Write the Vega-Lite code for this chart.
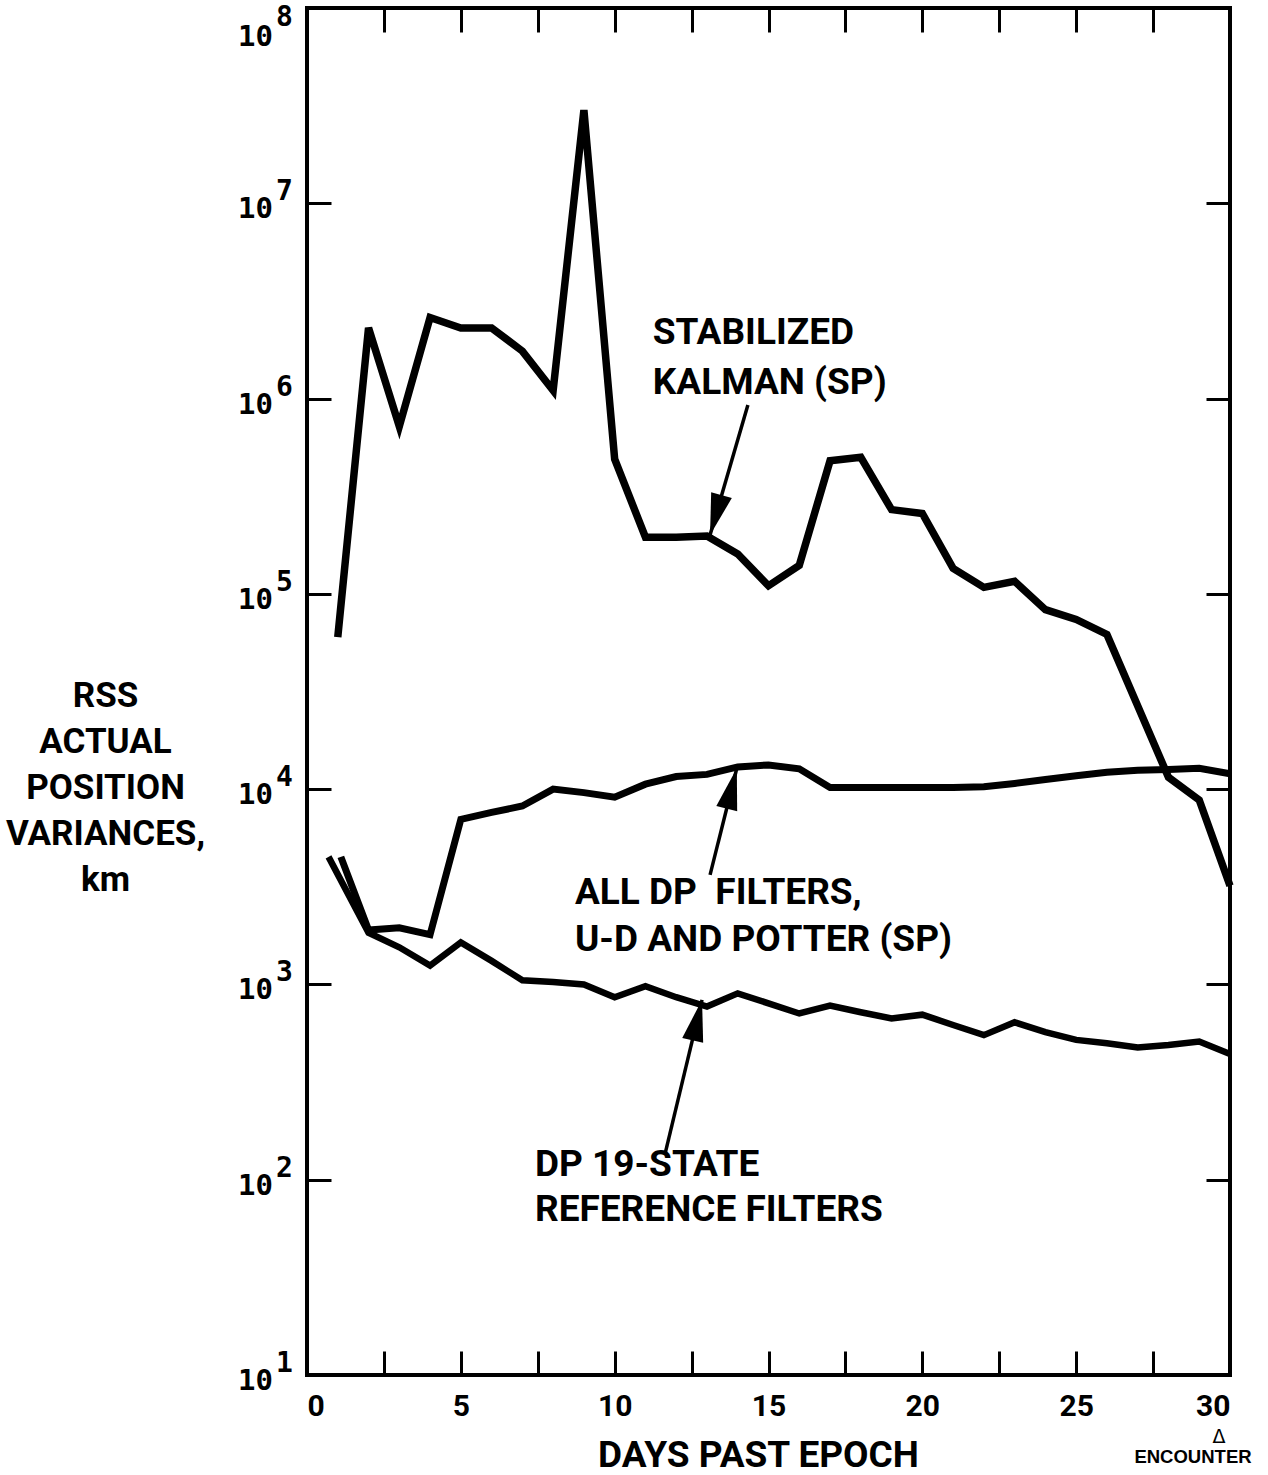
{
  "$schema": "https://vega.github.io/schema/vega-lite/v6.json",
  "width": 923,
  "height": 1367,
  "autosize": {"type": "none"},
  "padding": {"left": 307, "top": 8, "right": 38, "bottom": 100},
  "background": "white",
  "config": {
    "view": {"stroke": "black", "strokeWidth": 4},
    "axis": {"grid": false, "domain": false, "tickColor": "black", "tickWidth": 3, "tickSize": -24, "labelColor": "black", "titleColor": "black"},
    "font": "Roboto"
  },
  "datasets": {
    "curves": [
      {"series": "Kalman", "day": 1, "value": 60000},
      {"series": "Kalman", "day": 2, "value": 2300000},
      {"series": "Kalman", "day": 3, "value": 720000},
      {"series": "Kalman", "day": 4, "value": 2600000},
      {"series": "Kalman", "day": 5, "value": 2300000},
      {"series": "Kalman", "day": 6, "value": 2300000},
      {"series": "Kalman", "day": 7, "value": 1750000},
      {"series": "Kalman", "day": 8, "value": 1100000},
      {"series": "Kalman", "day": 9, "value": 30000000},
      {"series": "Kalman", "day": 10, "value": 490000},
      {"series": "Kalman", "day": 11, "value": 195000},
      {"series": "Kalman", "day": 12, "value": 195000},
      {"series": "Kalman", "day": 13, "value": 198000},
      {"series": "Kalman", "day": 14, "value": 160000},
      {"series": "Kalman", "day": 15, "value": 110000},
      {"series": "Kalman", "day": 16, "value": 140000},
      {"series": "Kalman", "day": 17, "value": 480000},
      {"series": "Kalman", "day": 18, "value": 500000},
      {"series": "Kalman", "day": 19, "value": 270000},
      {"series": "Kalman", "day": 20, "value": 258000},
      {"series": "Kalman", "day": 21, "value": 135000},
      {"series": "Kalman", "day": 22, "value": 108000},
      {"series": "Kalman", "day": 23, "value": 116000},
      {"series": "Kalman", "day": 24, "value": 83000},
      {"series": "Kalman", "day": 25, "value": 74000},
      {"series": "Kalman", "day": 26, "value": 62000},
      {"series": "Kalman", "day": 28, "value": 11500},
      {"series": "Kalman", "day": 29, "value": 8800},
      {"series": "Kalman", "day": 30, "value": 3200},
      {"series": "AllDP", "day": 1.1, "value": 4500},
      {"series": "AllDP", "day": 2, "value": 1900},
      {"series": "AllDP", "day": 3, "value": 1950},
      {"series": "AllDP", "day": 4, "value": 1800},
      {"series": "AllDP", "day": 5, "value": 7000},
      {"series": "AllDP", "day": 6, "value": 7600},
      {"series": "AllDP", "day": 7, "value": 8200},
      {"series": "AllDP", "day": 8, "value": 10000},
      {"series": "AllDP", "day": 9, "value": 9600},
      {"series": "AllDP", "day": 10, "value": 9100},
      {"series": "AllDP", "day": 11, "value": 10600},
      {"series": "AllDP", "day": 12, "value": 11600},
      {"series": "AllDP", "day": 13, "value": 11900},
      {"series": "AllDP", "day": 14, "value": 13000},
      {"series": "AllDP", "day": 15, "value": 13300},
      {"series": "AllDP", "day": 16, "value": 12700},
      {"series": "AllDP", "day": 17, "value": 10200},
      {"series": "AllDP", "day": 18, "value": 10200},
      {"series": "AllDP", "day": 19, "value": 10200},
      {"series": "AllDP", "day": 20, "value": 10200},
      {"series": "AllDP", "day": 21, "value": 10200},
      {"series": "AllDP", "day": 22, "value": 10300},
      {"series": "AllDP", "day": 23, "value": 10700},
      {"series": "AllDP", "day": 24, "value": 11200},
      {"series": "AllDP", "day": 25, "value": 11700},
      {"series": "AllDP", "day": 26, "value": 12200},
      {"series": "AllDP", "day": 27, "value": 12500},
      {"series": "AllDP", "day": 28, "value": 12600},
      {"series": "AllDP", "day": 29, "value": 12800},
      {"series": "AllDP", "day": 30, "value": 12000},
      {"series": "Reference", "day": 0.7, "value": 4500},
      {"series": "Reference", "day": 2, "value": 1840},
      {"series": "Reference", "day": 3, "value": 1550},
      {"series": "Reference", "day": 4, "value": 1250},
      {"series": "Reference", "day": 5, "value": 1640},
      {"series": "Reference", "day": 6, "value": 1320},
      {"series": "Reference", "day": 7, "value": 1050},
      {"series": "Reference", "day": 8, "value": 1030},
      {"series": "Reference", "day": 9, "value": 1000},
      {"series": "Reference", "day": 10, "value": 860},
      {"series": "Reference", "day": 11, "value": 980},
      {"series": "Reference", "day": 12, "value": 860},
      {"series": "Reference", "day": 13, "value": 770},
      {"series": "Reference", "day": 14, "value": 900},
      {"series": "Reference", "day": 15, "value": 800},
      {"series": "Reference", "day": 16, "value": 710},
      {"series": "Reference", "day": 17, "value": 780},
      {"series": "Reference", "day": 18, "value": 720},
      {"series": "Reference", "day": 19, "value": 670},
      {"series": "Reference", "day": 20, "value": 700},
      {"series": "Reference", "day": 21, "value": 620},
      {"series": "Reference", "day": 22, "value": 550},
      {"series": "Reference", "day": 23, "value": 640},
      {"series": "Reference", "day": 24, "value": 570},
      {"series": "Reference", "day": 25, "value": 520},
      {"series": "Reference", "day": 26, "value": 500},
      {"series": "Reference", "day": 27, "value": 475},
      {"series": "Reference", "day": 28, "value": 490},
      {"series": "Reference", "day": 29, "value": 510},
      {"series": "Reference", "day": 30, "value": 440}
    ],
    "yticks": [
      {"value": 10, "exp": "1"},
      {"value": 100, "exp": "2"},
      {"value": 1000, "exp": "3"},
      {"value": 10000, "exp": "4"},
      {"value": 100000, "exp": "5"},
      {"value": 1000000, "exp": "6"},
      {"value": 10000000, "exp": "7"},
      {"value": 100000000, "exp": "8"}
    ],
    "notes": [
      {"day": 11.24, "value": 2170000, "text": "STABILIZED"},
      {"day": 11.24, "value": 1200000, "text": "KALMAN (SP)"},
      {"day": 8.71, "value": 2940, "text": "ALL DP\u00a0\u00a0FILTERS,"},
      {"day": 8.71, "value": 1690, "text": "U-D AND POTTER (SP)"},
      {"day": 7.41, "value": 119, "text": "DP 19-STATE"},
      {"day": 7.41, "value": 70, "text": "REFERENCE FILTERS"}
    ],
    "arrows": [
      {"arrow": "kalman", "day": 14.33, "value": 927000, "tipDay": 13.1, "tipValue": 200000},
      {"arrow": "alldp", "day": 13.1, "value": 3640, "tipDay": 13.97, "tipValue": 12800},
      {"arrow": "reference", "day": 11.63, "value": 134, "tipDay": 12.84, "tipValue": 834}
    ],
    "encounter": [
      {"day": 30, "value": 10, "label": "ENCOUNTER", "mark": "Δ"}
    ]
  },
  "layer": [
    {
      "data": {"name": "curves"},
      "mark": {"type": "line", "color": "black", "strokeJoin": "miter", "strokeCap": "butt"},
      "encoding": {
        "x": {
          "field": "day", "type": "quantitative",
          "scale": {"domain": [0, 30], "nice": false, "zero": false},
          "axis": {
            "orient": "bottom",
            "values": [0, 2.5, 5, 7.5, 10, 12.5, 15, 17.5, 20, 22.5, 25, 27.5, 30],
            "labelExpr": "datum.value % 5 === 0 ? datum.label : ''",
            "labelFont": "Roboto",
            "labelFontSize": 30,
            "labelFontWeight": "bold",
            "labelPadding": 40,
            "labelFlush": true,
            "title": "DAYS PAST EPOCH",
            "titleFont": "Roboto",
            "titleFontSize": 37,
            "titleFontWeight": "bold",
            "titleX": 451,
            "titleY": 80,
            "titleBaseline": "middle",
            "titleAlign": "center",
            "titleAnchor": null
          }
        },
        "y": {
          "field": "value", "type": "quantitative",
          "scale": {"type": "log", "domain": [10, 100000000], "nice": false},
          "axis": {
            "orient": "left",
            "values": [10, 100, 1000, 10000, 100000, 1000000, 10000000, 100000000],
            "labels": false,
            "title": ["RSS", "ACTUAL", "POSITION", "VARIANCES,", "km"],
            "titleFont": "Roboto",
            "titleFontSize": 35,
            "titleFontWeight": "bold",
            "titleAngle": 0,
            "titleAlign": "center",
            "titleBaseline": "middle",
            "titleLineHeight": 46,
            "titleX": -202,
            "titleY": 687
          }
        },
        "detail": {"field": "series", "type": "nominal"},
        "strokeWidth": {
          "field": "series", "type": "nominal",
          "scale": {"domain": ["Kalman", "AllDP", "Reference"], "range": [7.5, 6.5, 6.5]},
          "legend": null
        }
      }
    },
    {
      "data": {"name": "curves"},
      "mark": {"type": "line", "opacity": 0},
      "encoding": {
        "x": {
          "field": "day", "type": "quantitative",
          "scale": {"domain": [0, 30], "nice": false, "zero": false},
          "axis": {"orient": "top", "values": [0, 2.5, 5, 7.5, 10, 12.5, 15, 17.5, 20, 22.5, 25, 27.5, 30], "labels": false, "title": null}
        },
        "y": {
          "field": "value", "type": "quantitative",
          "scale": {"type": "log", "domain": [10, 100000000], "nice": false},
          "axis": {"orient": "right", "values": [10, 100, 1000, 10000, 100000, 1000000, 10000000, 100000000], "labels": false, "title": null}
        },
        "detail": {"field": "series", "type": "nominal"}
      }
    },
    {
      "data": {"name": "yticks"},
      "transform": [{"filter": "datum.value < 50000000"}],
      "mark": {"type": "text", "align": "right", "baseline": "middle", "dx": -34, "dy": 6, "font": "DejaVu Sans Mono", "fontSize": 29, "fontWeight": "bold", "color": "black"},
      "encoding": {
        "x": {"datum": 0, "type": "quantitative", "scale": {"domain": [0, 30], "nice": false, "zero": false}, "axis": null},
        "y": {"field": "value", "type": "quantitative", "scale": {"type": "log", "domain": [10, 100000000], "nice": false}, "axis": null},
        "text": {"value": "10"}
      }
    },
    {
      "data": {"name": "yticks"},
      "transform": [{"filter": "datum.value < 50000000"}],
      "mark": {"type": "text", "align": "left", "baseline": "middle", "dx": -31, "dy": -11, "font": "DejaVu Sans Mono", "fontSize": 28, "fontWeight": "bold", "color": "black"},
      "encoding": {
        "x": {"datum": 0, "type": "quantitative", "scale": {"domain": [0, 30], "nice": false, "zero": false}, "axis": null},
        "y": {"field": "value", "type": "quantitative", "scale": {"type": "log", "domain": [10, 100000000], "nice": false}, "axis": null},
        "text": {"field": "exp"}
      }
    },
    {
      "data": {"name": "yticks"},
      "transform": [{"filter": "datum.value > 50000000"}],
      "mark": {"type": "text", "align": "right", "baseline": "middle", "dx": -34, "dy": 29, "font": "DejaVu Sans Mono", "fontSize": 29, "fontWeight": "bold", "color": "black"},
      "encoding": {
        "x": {"datum": 0, "type": "quantitative", "scale": {"domain": [0, 30], "nice": false, "zero": false}, "axis": null},
        "y": {"field": "value", "type": "quantitative", "scale": {"type": "log", "domain": [10, 100000000], "nice": false}, "axis": null},
        "text": {"value": "10"}
      }
    },
    {
      "data": {"name": "yticks"},
      "transform": [{"filter": "datum.value > 50000000"}],
      "mark": {"type": "text", "align": "left", "baseline": "middle", "dx": -31, "dy": 10, "font": "DejaVu Sans Mono", "fontSize": 28, "fontWeight": "bold", "color": "black"},
      "encoding": {
        "x": {"datum": 0, "type": "quantitative", "scale": {"domain": [0, 30], "nice": false, "zero": false}, "axis": null},
        "y": {"field": "value", "type": "quantitative", "scale": {"type": "log", "domain": [10, 100000000], "nice": false}, "axis": null},
        "text": {"field": "exp"}
      }
    },
    {
      "data": {"name": "notes"},
      "mark": {"type": "text", "align": "left", "baseline": "middle", "font": "Roboto", "fontSize": 37, "fontWeight": "bold", "color": "black"},
      "encoding": {
        "x": {"field": "day", "type": "quantitative", "scale": {"domain": [0, 30], "nice": false, "zero": false}, "axis": null},
        "y": {"field": "value", "type": "quantitative", "scale": {"type": "log", "domain": [10, 100000000], "nice": false}, "axis": null},
        "text": {"field": "text"}
      }
    },
    {
      "data": {"name": "arrows"},
      "mark": {"type": "rule", "color": "black", "strokeWidth": 3.5},
      "encoding": {
        "x": {"field": "day", "type": "quantitative", "scale": {"domain": [0, 30], "nice": false, "zero": false}, "axis": null},
        "y": {"field": "value", "type": "quantitative", "scale": {"type": "log", "domain": [10, 100000000], "nice": false}, "axis": null},
        "x2": {"field": "tipDay"},
        "y2": {"field": "tipValue"}
      }
    },
    {
      "data": {"name": "arrows"},
      "transform": [{"filter": "datum.arrow === 'kalman'"}],
      "mark": {"type": "point", "shape": "M0,0L-0.62,2.4L0.62,2.4Z", "filled": true, "color": "black", "opacity": 1, "size": 1200, "angle": 196},
      "encoding": {
        "x": {"field": "tipDay", "type": "quantitative", "scale": {"domain": [0, 30], "nice": false, "zero": false}, "axis": null},
        "y": {"field": "tipValue", "type": "quantitative", "scale": {"type": "log", "domain": [10, 100000000], "nice": false}, "axis": null}
      }
    },
    {
      "data": {"name": "arrows"},
      "transform": [{"filter": "datum.arrow === 'alldp'"}],
      "mark": {"type": "point", "shape": "M0,0L-0.62,2.4L0.62,2.4Z", "filled": true, "color": "black", "opacity": 1, "size": 1200, "angle": 14},
      "encoding": {
        "x": {"field": "tipDay", "type": "quantitative", "scale": {"domain": [0, 30], "nice": false, "zero": false}, "axis": null},
        "y": {"field": "tipValue", "type": "quantitative", "scale": {"type": "log", "domain": [10, 100000000], "nice": false}, "axis": null}
      }
    },
    {
      "data": {"name": "arrows"},
      "transform": [{"filter": "datum.arrow === 'reference'"}],
      "mark": {"type": "point", "shape": "M0,0L-0.62,2.4L0.62,2.4Z", "filled": true, "color": "black", "opacity": 1, "size": 1200, "angle": 13},
      "encoding": {
        "x": {"field": "tipDay", "type": "quantitative", "scale": {"domain": [0, 30], "nice": false, "zero": false}, "axis": null},
        "y": {"field": "tipValue", "type": "quantitative", "scale": {"type": "log", "domain": [10, 100000000], "nice": false}, "axis": null}
      }
    },
    {
      "data": {"name": "encounter"},
      "mark": {"type": "text", "align": "center", "baseline": "middle", "dx": -37, "dy": 82, "font": "Liberation Sans", "fontSize": 18.5, "fontWeight": "bold", "color": "black"},
      "encoding": {
        "x": {"field": "day", "type": "quantitative", "scale": {"domain": [0, 30], "nice": false, "zero": false}, "axis": null},
        "y": {"field": "value", "type": "quantitative", "scale": {"type": "log", "domain": [10, 100000000], "nice": false}, "axis": null},
        "text": {"field": "label"}
      }
    },
    {
      "data": {"name": "encounter"},
      "mark": {"type": "text", "align": "center", "baseline": "middle", "dx": -11, "dy": 62, "font": "DejaVu Sans", "fontSize": 19, "color": "black"},
      "encoding": {
        "x": {"field": "day", "type": "quantitative", "scale": {"domain": [0, 30], "nice": false, "zero": false}, "axis": null},
        "y": {"field": "value", "type": "quantitative", "scale": {"type": "log", "domain": [10, 100000000], "nice": false}, "axis": null},
        "text": {"field": "mark"}
      }
    }
  ],
  "resolve": {"axis": {"x": "independent", "y": "independent"}}
}
